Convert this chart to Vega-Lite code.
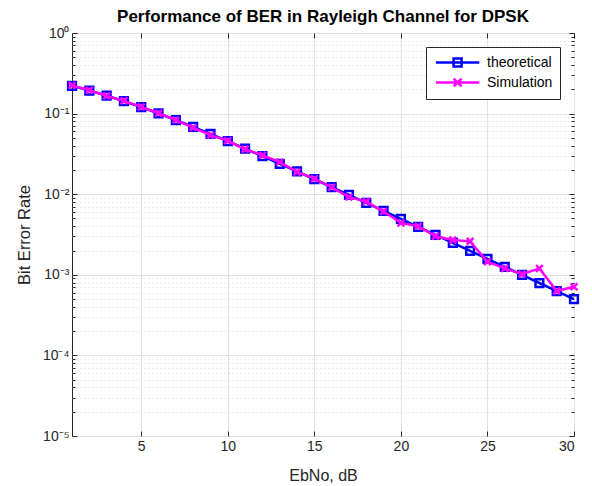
{
  "$schema": "https://vega.github.io/schema/vega-lite/v6.json",
  "width": 502,
  "height": 403,
  "autosize": {"type": "none"},
  "padding": {"left": 72, "top": 33, "right": 18, "bottom": 50},
  "title": {"text": "Performance of BER in Rayleigh Channel for DPSK", "fontSize": 17, "fontWeight": "bold", "color": "#000000", "offset": 0, "anchor": "middle", "font": "Liberation Sans"},
  "config": {
    "font": "Liberation Sans",
    "view": {"stroke": "#262626", "strokeWidth": 1},
    "axis": {"domain": false, "labelColor": "#262626", "tickColor": "#262626", "labelFont": "Liberation Sans", "titleFont": "Liberation Sans", "titleColor": "#262626", "titleFontWeight": "normal"}
  },
  "data": {"values": [
    {"EbNo": 1, "BER": 0.2213, "series": "theoretical"},
    {"EbNo": 2, "BER": 0.1934, "series": "theoretical"},
    {"EbNo": 3, "BER": 0.1669, "series": "theoretical"},
    {"EbNo": 4, "BER": 0.1424, "series": "theoretical"},
    {"EbNo": 5, "BER": 0.1201, "series": "theoretical"},
    {"EbNo": 6, "BER": 0.1004, "series": "theoretical"},
    {"EbNo": 7, "BER": 0.0832, "series": "theoretical"},
    {"EbNo": 8, "BER": 0.0684, "series": "theoretical"},
    {"EbNo": 9, "BER": 0.0559, "series": "theoretical"},
    {"EbNo": 10, "BER": 0.04545, "series": "theoretical"},
    {"EbNo": 11, "BER": 0.0368, "series": "theoretical"},
    {"EbNo": 12, "BER": 0.02967, "series": "theoretical"},
    {"EbNo": 13, "BER": 0.02386, "series": "theoretical"},
    {"EbNo": 14, "BER": 0.01914, "series": "theoretical"},
    {"EbNo": 15, "BER": 0.01533, "series": "theoretical"},
    {"EbNo": 16, "BER": 0.01225, "series": "theoretical"},
    {"EbNo": 17, "BER": 0.00978, "series": "theoretical"},
    {"EbNo": 18, "BER": 0.0078, "series": "theoretical"},
    {"EbNo": 19, "BER": 0.00622, "series": "theoretical"},
    {"EbNo": 20, "BER": 0.00495, "series": "theoretical"},
    {"EbNo": 21, "BER": 0.00394, "series": "theoretical"},
    {"EbNo": 22, "BER": 0.003135, "series": "theoretical"},
    {"EbNo": 23, "BER": 0.002493, "series": "theoretical"},
    {"EbNo": 24, "BER": 0.001983, "series": "theoretical"},
    {"EbNo": 25, "BER": 0.001576, "series": "theoretical"},
    {"EbNo": 26, "BER": 0.001253, "series": "theoretical"},
    {"EbNo": 27, "BER": 0.000996, "series": "theoretical"},
    {"EbNo": 28, "BER": 0.000791, "series": "theoretical"},
    {"EbNo": 29, "BER": 0.000629, "series": "theoretical"},
    {"EbNo": 30, "BER": 0.0004995, "series": "theoretical"},
    {"EbNo": 1, "BER": 0.224, "series": "Simulation"},
    {"EbNo": 2, "BER": 0.195, "series": "Simulation"},
    {"EbNo": 3, "BER": 0.166, "series": "Simulation"},
    {"EbNo": 4, "BER": 0.144, "series": "Simulation"},
    {"EbNo": 5, "BER": 0.121, "series": "Simulation"},
    {"EbNo": 6, "BER": 0.101, "series": "Simulation"},
    {"EbNo": 7, "BER": 0.083, "series": "Simulation"},
    {"EbNo": 8, "BER": 0.067, "series": "Simulation"},
    {"EbNo": 9, "BER": 0.054, "series": "Simulation"},
    {"EbNo": 10, "BER": 0.046, "series": "Simulation"},
    {"EbNo": 11, "BER": 0.036, "series": "Simulation"},
    {"EbNo": 12, "BER": 0.0305, "series": "Simulation"},
    {"EbNo": 13, "BER": 0.025, "series": "Simulation"},
    {"EbNo": 14, "BER": 0.0189, "series": "Simulation"},
    {"EbNo": 15, "BER": 0.0156, "series": "Simulation"},
    {"EbNo": 16, "BER": 0.0122, "series": "Simulation"},
    {"EbNo": 17, "BER": 0.0092, "series": "Simulation"},
    {"EbNo": 18, "BER": 0.0081, "series": "Simulation"},
    {"EbNo": 19, "BER": 0.0061, "series": "Simulation"},
    {"EbNo": 20, "BER": 0.0044, "series": "Simulation"},
    {"EbNo": 21, "BER": 0.004, "series": "Simulation"},
    {"EbNo": 22, "BER": 0.003, "series": "Simulation"},
    {"EbNo": 23, "BER": 0.0027, "series": "Simulation"},
    {"EbNo": 24, "BER": 0.0026, "series": "Simulation"},
    {"EbNo": 25, "BER": 0.00145, "series": "Simulation"},
    {"EbNo": 26, "BER": 0.0012, "series": "Simulation"},
    {"EbNo": 27, "BER": 0.00102, "series": "Simulation"},
    {"EbNo": 28, "BER": 0.0012, "series": "Simulation"},
    {"EbNo": 29, "BER": 0.00063, "series": "Simulation"},
    {"EbNo": 30, "BER": 0.00071, "series": "Simulation"}
  ]},
  "resolve": {"axis": {"x": "independent", "y": "independent"}},
  "layer": [
    {
      "transform": [{"filter": "datum.series === 'theoretical'"}],
      "mark": {"type": "line", "strokeWidth": 2.5, "clip": true},
      "encoding": {
        "x": {"field": "EbNo", "type": "quantitative", "scale": {"domain": [1, 30], "nice": false, "zero": false},
          "axis": {"orient": "bottom", "values": [5, 10, 15, 20, 25, 30], "grid": true, "gridColor": "#e1e1e1", "tickSize": -5, "labelPadding": 8, "labelFontSize": 14, "title": "EbNo, dB", "titleFontSize": 16, "titlePadding": 14}},
        "y": {"field": "BER", "type": "quantitative", "scale": {"type": "log", "domain": [0.00001, 1], "nice": false},
          "axis": {"orient": "left", "values": [0.00001, 0.0001, 0.001, 0.01, 0.1, 1], "grid": true, "gridColor": "#e1e1e1", "tickSize": -5, "labelPadding": 8, "labelFontSize": 14,
            "labelExpr": "datum.value >= 0.5 ? '10⁰' : datum.value >= 0.05 ? '10⁻¹' : datum.value >= 0.005 ? '10⁻²' : datum.value >= 0.0005 ? '10⁻³' : datum.value >= 0.00005 ? '10⁻⁴' : '10⁻⁵'",
            "title": "Bit Error Rate", "titleFontSize": 16.5, "titlePadding": 10}},
        "color": {"field": "series", "type": "nominal", "scale": {"domain": ["theoretical", "Simulation"], "range": ["#0000ff", "#ff00ff"]},
          "legend": {"title": null, "orient": "top-right", "offset": 14, "padding": 7, "strokeColor": "#262626", "fillColor": "#ffffff",
            "labelFontSize": 14, "labelColor": "#000000", "labelFont": "Liberation Sans", "symbolSize": 196, "symbolStrokeWidth": 2.5, "labelOffset": 37, "rowPadding": 1,
            "encode": {"symbols": {"update": {
              "shape": {"signal": "datum.value === 'theoretical' ? 'M-0.8,0H5.4M1.73,-0.57H2.87V0.57H1.73Z' : 'M-0.8,0H5.4M1.73,-0.57L2.87,0.57M1.73,0.57L2.87,-0.57'"},
              "fill": {"value": "transparent"},
              "strokeWidth": {"value": 2.5}
            }}}}}
      }
    },
    {
      "transform": [{"filter": "datum.series === 'theoretical'"}],
      "mark": {"type": "point", "shape": "square", "filled": false, "size": 60, "strokeWidth": 2.5, "color": "#0000ff", "opacity": 1},
      "encoding": {
        "x": {"field": "EbNo", "type": "quantitative",
          "axis": {"orient": "top", "values": [5, 10, 15, 20, 25, 30], "grid": false, "tickSize": -5, "labels": false, "title": null}},
        "y": {"field": "BER", "type": "quantitative",
          "axis": {"orient": "left", "values": [0.00002, 0.00003, 0.00004, 0.00005, 0.00006, 0.00007, 0.00008, 0.00009, 0.0002, 0.0003, 0.0004, 0.0005, 0.0006, 0.0007, 0.0008, 0.0009, 0.002, 0.003, 0.004, 0.005, 0.006, 0.007, 0.008, 0.009, 0.02, 0.03, 0.04, 0.05, 0.06, 0.07, 0.08, 0.09, 0.2, 0.3, 0.4, 0.5, 0.6, 0.7, 0.8, 0.9],
            "grid": true, "gridColor": "#d9d9d9", "gridDash": [1, 3], "tickSize": -3, "labels": false, "title": null}}
      }
    },
    {
      "transform": [{"filter": "datum.series === 'Simulation'"}],
      "mark": {"type": "line", "strokeWidth": 2.5, "color": "#ff00ff"},
      "encoding": {
        "x": {"field": "EbNo", "type": "quantitative", "axis": null},
        "y": {"field": "BER", "type": "quantitative",
          "axis": {"orient": "right", "values": [0.00001, 0.0001, 0.001, 0.01, 0.1, 1], "grid": false, "tickSize": -5, "labels": false, "title": null}}
      }
    },
    {
      "transform": [{"filter": "datum.series === 'Simulation'"}],
      "mark": {"type": "point", "shape": "M-1,-1L1,1M-1,1L1,-1", "filled": false, "size": 45, "strokeWidth": 2.5, "color": "#ff00ff", "opacity": 1},
      "encoding": {
        "x": {"field": "EbNo", "type": "quantitative", "axis": null},
        "y": {"field": "BER", "type": "quantitative",
          "axis": {"orient": "right", "values": [0.00002, 0.00003, 0.00004, 0.00005, 0.00006, 0.00007, 0.00008, 0.00009, 0.0002, 0.0003, 0.0004, 0.0005, 0.0006, 0.0007, 0.0008, 0.0009, 0.002, 0.003, 0.004, 0.005, 0.006, 0.007, 0.008, 0.009, 0.02, 0.03, 0.04, 0.05, 0.06, 0.07, 0.08, 0.09, 0.2, 0.3, 0.4, 0.5, 0.6, 0.7, 0.8, 0.9],
            "grid": false, "tickSize": -3, "labels": false, "title": null}}
      }
    }
  ]
}
